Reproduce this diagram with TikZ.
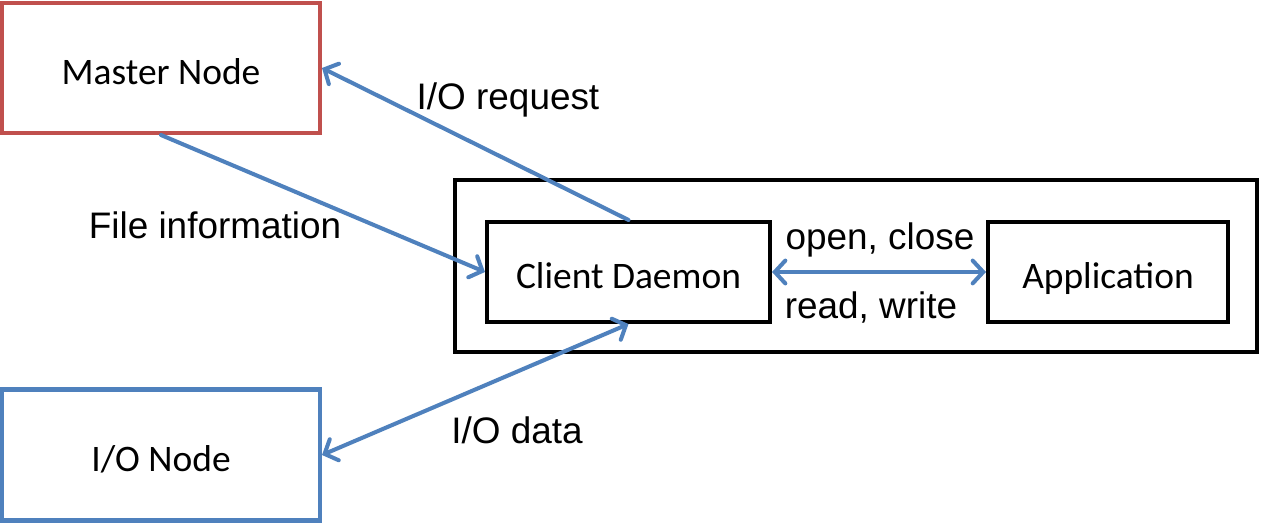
\documentclass[tikz,border=0pt]{standalone}
\usepackage{fontspec}
\setmainfont{Liberation Sans}
\newfontfamily\boxfont{Carlito}
\usetikzlibrary{arrows.meta}
\definecolor{linkblue}{HTML}{4F81BD}
\definecolor{masterred}{HTML}{C0504D}

\begin{document}
\begin{tikzpicture}[x=1cm, y=1cm,
	every box/.style={draw, line width=2.3pt, font=\boxfont\fontsize{21.3}{25}\selectfont, inner sep=0pt, text height=19pt, text depth=0pt},
	barb/.tip={Straight Barb[length=6pt,width=13pt,line width=2.3pt,line cap=round]},
	link/.style={draw=linkblue, line width=2.3pt, line cap=round},
	tag/.style={font=\fontsize{21}{25}\selectfont, inner sep=0pt}]

		\useasboundingbox (0,0) rectangle (25.26,10.48);

		% outer frame
		\node [every box, line width=2.4pt, minimum width=16.04cm, minimum height=3.44cm] (host) at (17.12,5.16) {};

		% nodes
		\node [every box, draw=masterred, minimum width=6.36cm, minimum height=2.6cm] (master) at (3.22,9.12) {Master Node};
		\node [every box, draw=linkblue, minimum width=6.36cm, minimum height=2.62cm] (ionode) at (3.22,1.38) {I/O Node};
		\node [every box, minimum width=5.66cm, minimum height=2cm] (client) at (12.57,5.04) {Client Daemon};
		\node [every box, minimum width=4.8cm, minimum height=2cm] (app) at (22.16,5.04) {Application};

		% connectors
		\draw [link, -{barb}] (client.north) -- (master.east);
		\draw [link, -{barb}] (master.south) -- (client.west);
		\draw [link, {barb}-{barb}] (client.south) -- (ionode.east);
		\draw [link, {barb}-{barb}] (client.east) -- (app.west);

		% labels
		\node [tag] (request) at (10.16,8.48) {I/O request};
		\node [tag] (fileinfo) at (4.3,5.98) {File information};
		\node [tag] (openclose) at (17.6,5.68) {open, close};
		\node [tag] (readwrite) at (17.42,4.34) {read, write};
		\node [tag] (iodata) at (10.34,1.88) {I/O data};

\end{tikzpicture}
\end{document}
